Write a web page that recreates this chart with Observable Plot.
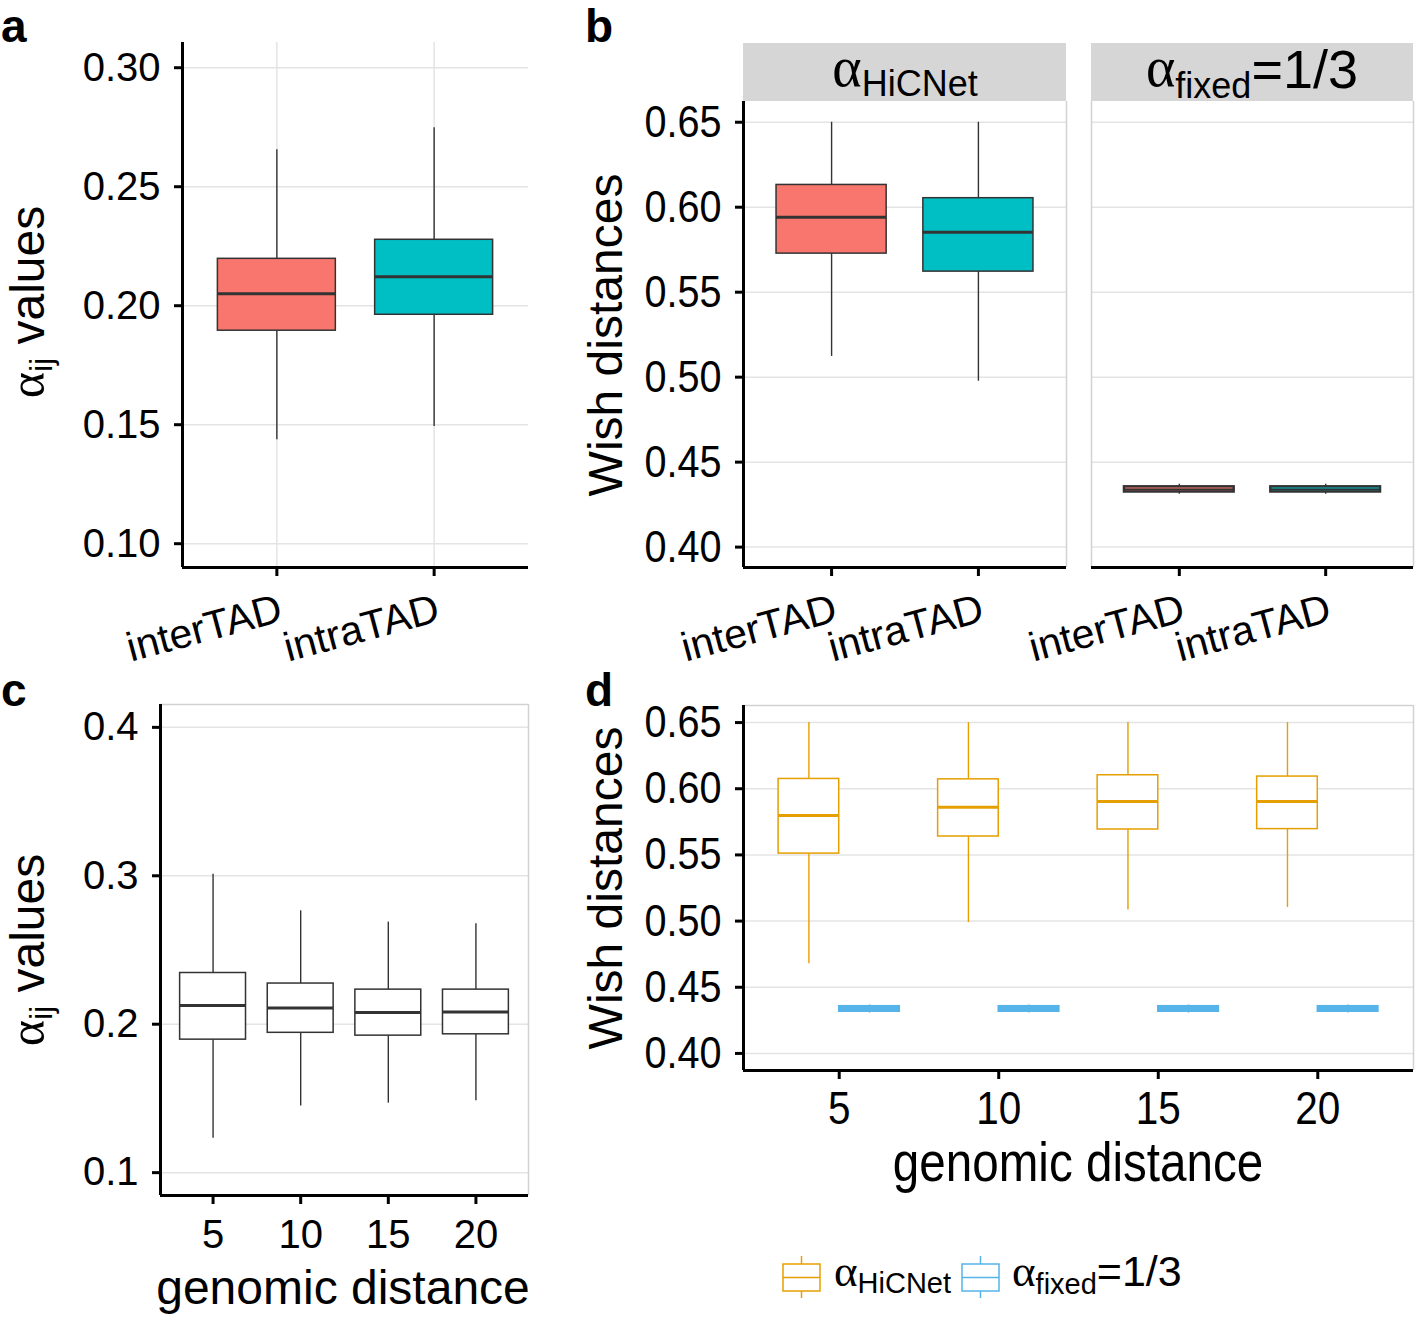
<!DOCTYPE html>
<html><head><meta charset="utf-8">
<script src="https://cdn.jsdelivr.net/npm/d3@7"></script>
<script src="https://cdn.jsdelivr.net/npm/@observablehq/plot@0.6"></script>
<style>
html,body{margin:0;padding:0;background:#fff;}
#root{position:relative;width:1418px;height:1319px;overflow:hidden;background:#fff;font-family:"Liberation Sans",Arial,sans-serif;}
#root svg{position:absolute;background:transparent;}
</style></head><body><div id="root"></div>
<script>
// ---------- data ----------
const tadCats = ["interTAD", "intraTAD"];
// panel a: alpha_ij values
const aLow  = [0.1437, 0.1492];
const aQ1   = [0.1895, 0.1962];
const aMed  = [0.2050, 0.2122];
const aQ3   = [0.2197, 0.2277];
const aHigh = [0.2655, 0.2748];
const aTicks = [0.10, 0.15, 0.20, 0.25, 0.30];
// panel b: Wish distances, alpha_HiCNet facet
const bHLow  = [0.5122, 0.4976];
const bHQ1   = [0.5727, 0.5621];
const bHMed  = [0.5941, 0.5852];
const bHQ3   = [0.6131, 0.6053];
const bHHigh = [0.6500, 0.6500];
// panel b: alpha_fixed = 1/3 facet
const bFLow  = [0.4311, 0.4311];
const bFQ1   = [0.4324, 0.4324];
const bFMed  = [0.4339, 0.4339];
const bFQ3   = [0.4355, 0.4355];
const bFHigh = [0.4370, 0.4370];
const wishTicks = [0.40, 0.45, 0.50, 0.55, 0.60, 0.65];
// panel c: alpha_ij by genomic distance
const distances = [5, 10, 15, 20];
const cLow  = [0.1232, 0.1449, 0.1468, 0.1485];
const cQ1   = [0.1896, 0.1942, 0.1923, 0.1932];
const cMed  = [0.2126, 0.2110, 0.2079, 0.2082];
const cQ3   = [0.2345, 0.2274, 0.2233, 0.2233];
const cHigh = [0.3011, 0.2764, 0.2688, 0.2677];
const cTicks = [0.1, 0.2, 0.3, 0.4];
// panel d: Wish distances by genomic distance
const dHLow  = [0.4678, 0.4989, 0.5084, 0.5103];
const dHQ1   = [0.5510, 0.5639, 0.5692, 0.5695];
const dHMed  = [0.5797, 0.5861, 0.5904, 0.5904];
const dHQ3   = [0.6074, 0.6071, 0.6102, 0.6092];
const dHHigh = [0.6500, 0.6500, 0.6500, 0.6500];
const dFLow  = [0.4305, 0.4305, 0.4305, 0.4305];
const dFQ1   = [0.4315, 0.4315, 0.4315, 0.4315];
const dFMed  = [0.4337, 0.4337, 0.4337, 0.4337];
const dFQ3   = [0.4357, 0.4357, 0.4357, 0.4357];
const dFHigh = [0.4366, 0.4366, 0.4366, 0.4366];

// ---------- styling ----------
const RED = "#F8766D", TEAL = "#00BFC4", ORANGE = "#E69F00", BLUE = "#56B4E9";
const GRID = "#e4e4e4", BORDER = "#d2d2d2", BOXLINE = "#333333";
const FONT = "'Liberation Sans', Arial, sans-serif";
const root = document.getElementById("root");
function place(svg, left, top) { svg.style.left = left + "px"; svg.style.top = top + "px"; root.appendChild(svg); return svg; }
const baseStyle = {fontFamily: FONT, fontSize: "40px", background: "transparent", color: "black", overflow: "visible"};

// horizontally condense the tick labels of an axis (the reference uses a condensed face)
function condense(svg, label, s) {
  svg.querySelectorAll(`g[aria-label="${label}"] text`).forEach(t => {
    let tr = t.getAttribute("transform") || "";
    const x = t.getAttribute("x");
    if (x != null && x !== "0") { tr += ` translate(${x},0)`; t.removeAttribute("x"); }
    t.setAttribute("transform", tr + ` scale(${s},1)`);
  });
}

function rows(cats, pos, low, q1, med, q3, high, fill) {
  return cats.map((c, i) => ({cat: c, pos: pos[i], low: low[i], q1: q1[i], med: med[i], q3: q3[i], high: high[i], fill: fill[i]}));
}
function boxMarks(data, half, stroke, medW, boxW) {
  return [
    Plot.ruleX(data, {x: "pos", y1: "low", y2: "q1", stroke, strokeWidth: 1.4}),
    Plot.ruleX(data, {x: "pos", y1: "q3", y2: "high", stroke, strokeWidth: 1.4}),
    Plot.rect(data, {x1: d => d.pos - half, x2: d => d.pos + half, y1: "q1", y2: "q3", fill: "fill", stroke, strokeWidth: boxW}),
    Plot.ruleY(data, {y: "med", x1: d => d.pos - half, x2: d => d.pos + half, stroke, strokeWidth: medW})
  ];
}

// ---------- panel a ----------
const aDom = [0.0900, 0.3106];
const aRows = rows(tadCats, [1, 2], aLow, aQ1, aMed, aQ3, aHigh, [RED, TEAL]);
place(Plot.plot({
  width: 540, height: 680, marginLeft: 182, marginRight: 12, marginTop: 42, marginBottom: 113,
  style: baseStyle, color: {type: "identity"},
  x: {domain: [0.4, 2.6]}, y: {domain: aDom},
  marks: [
    Plot.gridY(aTicks, {stroke: GRID, strokeOpacity: 1, strokeWidth: 1.5}),
    Plot.gridX([1, 2], {stroke: GRID, strokeOpacity: 1, strokeWidth: 1.5}),
    ...boxMarks(aRows, 0.375, BOXLINE, 3, 1.5),
    Plot.ruleX([0.4], {stroke: "black", strokeWidth: 3}),
    Plot.ruleY([aDom[0]], {stroke: "black", strokeWidth: 3}),
    Plot.axisY({ticks: aTicks, tickFormat: ".2f", tickSize: 8, tickPadding: 14, strokeWidth: 3, fontSize: 40, label: null}),
    Plot.axisX({ticks: [1, 2], tickFormat: d => tadCats[d - 1], tickSize: 9, tickPadding: 16, strokeWidth: 3, fontSize: 41,
      tickRotate: -15, textAnchor: "end", lineAnchor: "top", label: null})
  ]
}), 0, 0);

// ---------- panel b ----------
const bDom = [0.3880, 0.6622];
const bHRows = rows(tadCats, [1, 2], bHLow, bHQ1, bHMed, bHQ3, bHHigh, [RED, TEAL]);
const bFRows = rows(tadCats, [1, 2], bFLow, bFQ1, bFMed, bFQ3, bFHigh, [RED, TEAL]);
const pb1 = place(Plot.plot({
  width: 480, height: 680, marginLeft: 153, marginRight: 4, marginTop: 101, marginBottom: 113,
  style: baseStyle, color: {type: "identity"},
  x: {domain: [0.4, 2.6]}, y: {domain: bDom},
  marks: [
    Plot.gridY(wishTicks, {stroke: GRID, strokeOpacity: 1, strokeWidth: 1.5}),
    Plot.ruleX([2.6], {stroke: BORDER, strokeWidth: 1.5}),
    ...boxMarks(bHRows, 0.375, BOXLINE, 3, 1.5),
    Plot.ruleX([0.4], {stroke: "black", strokeWidth: 3}),
    Plot.ruleY([bDom[0]], {stroke: "black", strokeWidth: 3}),
    Plot.axisY({ticks: wishTicks, tickFormat: ".2f", tickSize: 8, tickPadding: 14, strokeWidth: 3, fontSize: 45, label: null}),
    Plot.axisX({ticks: [1, 2], tickFormat: d => tadCats[d - 1], tickSize: 9, tickPadding: 16, strokeWidth: 3, fontSize: 41,
      tickRotate: -15, textAnchor: "end", lineAnchor: "top", label: null})
  ]
}), 590, 0);
condense(pb1, "y-axis tick label", 0.88);
place(Plot.plot({
  width: 343, height: 680, marginLeft: 16, marginRight: 5, marginTop: 101, marginBottom: 113,
  style: baseStyle, color: {type: "identity"},
  x: {domain: [0.4, 2.6]}, y: {domain: bDom, axis: null},
  marks: [
    Plot.gridY(wishTicks, {stroke: GRID, strokeOpacity: 1, strokeWidth: 1.5}),
    Plot.ruleX([0.4, 2.6], {stroke: BORDER, strokeWidth: 1.5}),
    ...boxMarks(bFRows, 0.375, BOXLINE, 2, 2.4),
    Plot.ruleY([bDom[0]], {stroke: "black", strokeWidth: 3}),
    Plot.axisX({ticks: [1, 2], tickFormat: d => tadCats[d - 1], tickSize: 9, tickPadding: 16, strokeWidth: 3, fontSize: 41,
      tickRotate: -15, textAnchor: "end", lineAnchor: "top", label: null})
  ]
}), 1075, 0);

// ---------- panel c ----------
const cDom = [0.0846, 0.4154];
const xDom = [2, 23];
const cRows = rows(distances, distances, cLow, cQ1, cMed, cQ3, cHigh, distances.map(() => "white"));
place(Plot.plot({
  width: 540, height: 639, marginLeft: 160, marginRight: 12, marginTop: 24, marginBottom: 124,
  style: baseStyle, color: {type: "identity"},
  x: {domain: xDom}, y: {domain: cDom},
  marks: [
    Plot.gridY(cTicks, {stroke: GRID, strokeOpacity: 1, strokeWidth: 1.5}),
    Plot.ruleX([xDom[1]], {stroke: BORDER, strokeWidth: 1.5}),
    Plot.ruleY([cDom[1]], {stroke: BORDER, strokeWidth: 1.5}),
    ...boxMarks(cRows, 1.88, BOXLINE, 3, 1.5),
    Plot.ruleX([xDom[0]], {stroke: "black", strokeWidth: 3}),
    Plot.ruleY([cDom[0]], {stroke: "black", strokeWidth: 3}),
    Plot.axisY({ticks: cTicks, tickFormat: ".1f", tickSize: 8, tickPadding: 14, strokeWidth: 3, fontSize: 40, label: null}),
    Plot.axisX({ticks: distances, tickFormat: d => String(d), tickSize: 9, tickPadding: 15, strokeWidth: 3, fontSize: 40, label: null})
  ]
}), 0, 680);

// ---------- panel d ----------
const dDom = [0.3871, 0.6629];
const dHRows = rows(distances, distances.map(d => d - 0.95), dHLow, dHQ1, dHMed, dHQ3, dHHigh, distances.map(() => "white"));
const dFRows = rows(distances, distances.map(d => d + 0.95), dFLow, dFQ1, dFMed, dFQ3, dFHigh, distances.map(() => BLUE));
const pd = place(Plot.plot({
  width: 828, height: 560, marginLeft: 153, marginRight: 5, marginTop: 25, marginBottom: 170,
  style: baseStyle, color: {type: "identity"},
  x: {domain: xDom}, y: {domain: dDom},
  marks: [
    Plot.gridY(wishTicks, {stroke: GRID, strokeOpacity: 1, strokeWidth: 1.5}),
    Plot.ruleX([xDom[1]], {stroke: BORDER, strokeWidth: 1.5}),
    Plot.ruleY([dDom[1]], {stroke: BORDER, strokeWidth: 1.5}),
    ...boxMarks(dHRows, 0.95, ORANGE, 3, 1.5),
    ...boxMarks(dFRows, 0.95, BLUE, 2, 1.5),
    Plot.ruleX([xDom[0]], {stroke: "black", strokeWidth: 3}),
    Plot.ruleY([dDom[0]], {stroke: "black", strokeWidth: 3}),
    Plot.axisY({ticks: wishTicks, tickFormat: ".2f", tickSize: 8, tickPadding: 14, strokeWidth: 3, fontSize: 45, label: null}),
    Plot.axisX({ticks: distances, tickFormat: d => String(d), tickSize: 9, tickPadding: 12, strokeWidth: 3, fontSize: 46, label: null})
  ]
}), 590, 680);
condense(pd, "y-axis tick label", 0.88);
condense(pd, "x-axis tick label", 0.88);

// ---------- overlay: panel letters, titles, strips, legend ----------
const SER = "'Liberation Serif', 'DejaVu Serif', serif";
const overlay = `
<svg xmlns="http://www.w3.org/2000/svg" width="1418" height="1319" style="left:0;top:0;pointer-events:none" font-family="${FONT}">
  <g font-weight="bold" font-size="46">
    <text x="1" y="42">a</text>
    <text x="585" y="42">b</text>
    <text x="1" y="706">c</text>
    <text x="585" y="706">d</text>
  </g>
  <rect x="743" y="43" width="323" height="58" fill="#d6d6d6"/>
  <rect x="1091" y="43" width="322" height="58" fill="#d6d6d6"/>
  <text x="905" y="86" text-anchor="middle" font-size="36"><tspan font-family="${SER}" font-size="56">α</tspan><tspan dy="10">HiCNet</tspan></text>
  <text x="1252" y="88" text-anchor="middle" font-size="36"><tspan font-family="${SER}" font-size="56" dy="-2">α</tspan><tspan dy="12">fixed</tspan><tspan dy="-10" font-size="54">=1/3</tspan></text>
  <text transform="translate(44,302) rotate(-90)" text-anchor="middle" font-size="48"><tspan font-family="${SER}" font-size="50">α</tspan><tspan dy="8" font-size="32">ij</tspan><tspan dy="-8"> values</tspan></text>
  <text transform="translate(44,950) rotate(-90)" text-anchor="middle" font-size="48"><tspan font-family="${SER}" font-size="50">α</tspan><tspan dy="8" font-size="32">ij</tspan><tspan dy="-8"> values</tspan></text>
  <text transform="translate(622,335) rotate(-90)" text-anchor="middle" font-size="48">Wish distances</text>
  <text transform="translate(622,888) rotate(-90)" text-anchor="middle" font-size="48">Wish distances</text>
  <text x="343" y="1304" text-anchor="middle" font-size="48">genomic distance</text>
  <text transform="translate(1078,1181) scale(0.85,1)" text-anchor="middle" font-size="56">genomic distance</text>
  <g fill="none" stroke-width="1.5">
    <g stroke="${ORANGE}">
      <rect x="783" y="1264" width="37" height="27"/>
      <line x1="783" x2="820" y1="1277.5" y2="1277.5"/>
      <line x1="801.5" x2="801.5" y1="1256" y2="1264"/>
      <line x1="801.5" x2="801.5" y1="1291" y2="1298"/>
    </g>
    <g stroke="${BLUE}">
      <rect x="962" y="1264" width="37" height="27"/>
      <line x1="962" x2="999" y1="1277.5" y2="1277.5"/>
      <line x1="980.5" x2="980.5" y1="1256" y2="1264"/>
      <line x1="980.5" x2="980.5" y1="1291" y2="1298"/>
    </g>
  </g>
  <text x="834" y="1286" font-size="29"><tspan font-family="${SER}" font-size="45">α</tspan><tspan dy="7">HiCNet</tspan></text>
  <text x="1012" y="1286" font-size="29"><tspan font-family="${SER}" font-size="45">α</tspan><tspan dy="8">fixed</tspan><tspan dy="-8" font-size="43">=1/3</tspan></text>
</svg>`;
root.insertAdjacentHTML("beforeend", overlay);
</script>
</body></html>
